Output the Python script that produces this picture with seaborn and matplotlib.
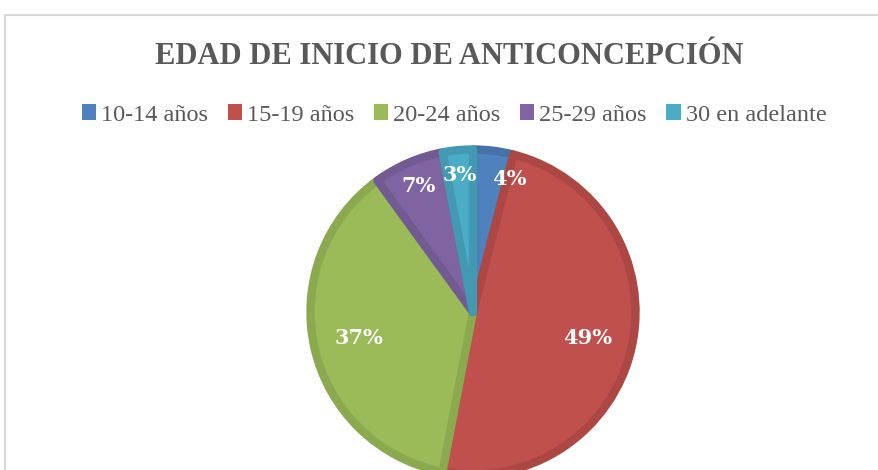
import numpy as np
import matplotlib
matplotlib.use("Agg")
import matplotlib.pyplot as plt
import seaborn as sns
from matplotlib.patches import Rectangle, Patch

# data
categories = ["10-14 años", "15-19 años", "20-24 años", "25-29 años", "30 en adelante"]
values = [4, 49, 37, 7, 3]
fill_colors = ["#4F81BD", "#C0504D", "#9BBB59", "#8064A2", "#4BACC6"]
edge_colors = ["#4672AA", "#AD4744", "#8BA94F", "#725A92", "#4399B1"]

sns.set_theme(style="white")
plt.rcParams["font.family"] = ["Liberation Serif", "DejaVu Serif"]

fig = plt.figure(figsize=(8.79, 4.70), dpi=100)
fig.patch.set_facecolor("white")

# light chart-area border (runs off right / bottom)
fig.patches.append(Rectangle((5 / 879, -0.1), 1.2, 1 - 15 / 470 + 0.1,
                             transform=fig.transFigure, fill=False,
                             edgecolor="#d9d9d9", linewidth=1.5))

# pie axes: centre (473, 312) px, radius 165 px
cx, cy, r = 473, 470 - 312, 165
ax = fig.add_axes([(cx - r) / 879, (cy - r) / 470, 2 * r / 879, 2 * r / 470])

wedges, texts, autotexts = ax.pie(
    values, colors=sns.color_palette(fill_colors), startangle=90, counterclock=False,
    radius=0.985, autopct="%1.0f%%", pctdistance=0.72,
    wedgeprops=dict(linewidth=6, joinstyle="round"),
    textprops=dict(color="white", fontsize=15, fontweight="bold"))
ax.set_xlim(-1, 1)
ax.set_ylim(-1, 1)
ax.axis("off")
for w, ec in zip(wedges, edge_colors):
    w.set_edgecolor(ec)

# small slices: labels pushed further out, first one nudged clockwise so
# the two tiny neighbours don't collide (like Excel's best fit)
for i, (w, t) in enumerate(zip(wedges, autotexts)):
    t.set_family(["DejaVu Serif"])
    if values[i] < 10:
        ang = np.deg2rad((w.theta1 + w.theta2) / 2 - (8 if i == 0 else 0))
        t.set_position((0.835 * np.cos(ang), 0.835 * np.sin(ang)))

fig.text(449 / 879, 1 - 57 / 470, "EDAD DE INICIO DE ANTICONCEPCIÓN",
         ha="center", va="center", fontsize=22, fontweight="bold", color="#595959")

handles = [Patch(facecolor=c, edgecolor="none") for c in fill_colors]
fig.legend(handles, categories, loc="center", bbox_to_anchor=(454 / 879, 1 - 115 / 470),
           ncol=5, frameon=False, fontsize=17.5, handlelength=0.6, handleheight=0.6,
           handletextpad=0.2, columnspacing=0.8, labelcolor="#595959")

fig.savefig("out.png", dpi=100, facecolor="white")
